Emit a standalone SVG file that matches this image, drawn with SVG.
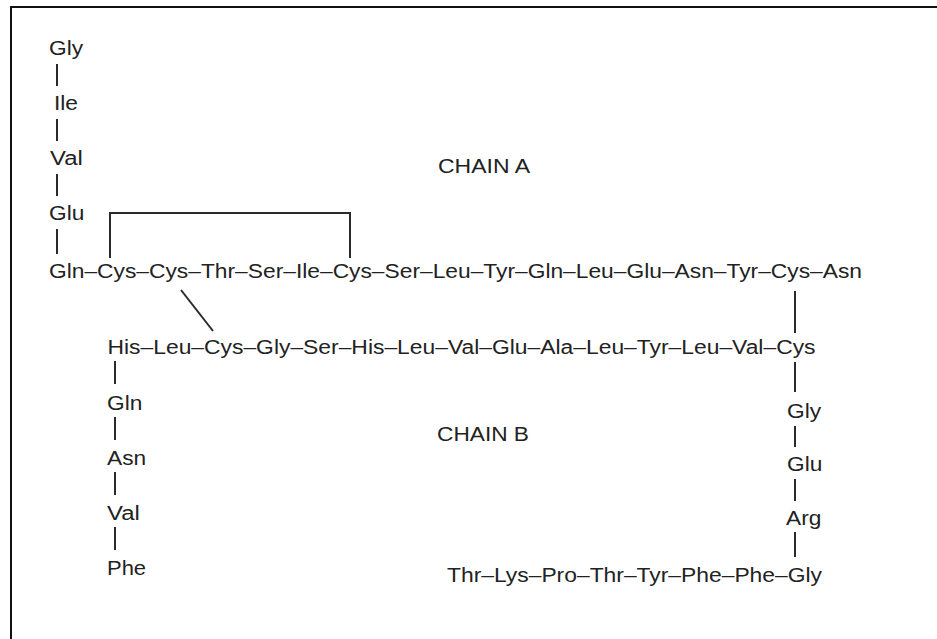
<svg xmlns="http://www.w3.org/2000/svg" width="937" height="639" viewBox="0 0 937 639">
  <style>
    text { font-family: "Liberation Sans", Arial, Helvetica, sans-serif; font-size: 20px; fill: #222; }
    .bond { stroke: #2a2a2a; stroke-width: 2; fill: none; }
    .frame { stroke: #111; stroke-width: 2; fill: none; }
  </style>
  <rect width="937" height="639" fill="#fff"/>
  <!-- outer frame (right and bottom edges fall outside the canvas) -->
  <rect class="frame" x="11" y="7" width="1000" height="1000"/>

  <!-- bonds and disulfide bridges -->
  <g id="connectors">
    <!-- chain A N-terminal column -->
    <line class="bond" x1="57" y1="64" x2="57" y2="86"/>
    <line class="bond" x1="57" y1="119" x2="57" y2="141"/>
    <line class="bond" x1="57" y1="174" x2="57" y2="196"/>
    <line class="bond" x1="57" y1="229" x2="57" y2="254"/>
    <!-- intrachain disulfide Cys6–Cys11 -->
    <path class="bond" d="M110,258 V213 H350 V258"/>
    <!-- interchain disulfide A7–B7 -->
    <line class="bond" x1="181" y1="290" x2="213" y2="331"/>
    <!-- interchain disulfide A20–B19 and chain B right column -->
    <line class="bond" x1="795" y1="291" x2="795" y2="333"/>
    <line class="bond" x1="795" y1="362" x2="795" y2="392"/>
    <line class="bond" x1="795" y1="426" x2="795" y2="447"/>
    <line class="bond" x1="795" y1="479" x2="795" y2="501"/>
    <line class="bond" x1="795" y1="532" x2="795" y2="557"/>
    <!-- chain B N-terminal column -->
    <line class="bond" x1="115" y1="361" x2="115" y2="384"/>
    <line class="bond" x1="115" y1="417" x2="115" y2="440"/>
    <line class="bond" x1="115" y1="472" x2="115" y2="495"/>
    <line class="bond" x1="115" y1="527" x2="115" y2="550"/>
  </g>

  <g id="chainA-nterm">
    <text x="49" y="55" textLength="34.1" lengthAdjust="spacingAndGlyphs">Gly</text>
    <text x="54" y="110" textLength="24" lengthAdjust="spacingAndGlyphs">Ile</text>
    <text x="50" y="165" textLength="32.8" lengthAdjust="spacingAndGlyphs">Val</text>
    <text x="49" y="220" textLength="35.3" lengthAdjust="spacingAndGlyphs">Glu</text>
  </g>

  <g id="chainA-row">
    <text x="49" y="278" textLength="813" lengthAdjust="spacingAndGlyphs">Gln–Cys–Cys–Thr–Ser–Ile–Cys–Ser–Leu–Tyr–Gln–Leu–Glu–Asn–Tyr–Cys–Asn</text>
  </g>

  <g id="chainB-row">
    <text x="107.5" y="354" textLength="708" lengthAdjust="spacingAndGlyphs">His–Leu–Cys–Gly–Ser–His–Leu–Val–Glu–Ala–Leu–Tyr–Leu–Val–Cys</text>
  </g>

  <g id="chainB-nterm">
    <text x="107" y="410" textLength="35.3" lengthAdjust="spacingAndGlyphs">Gln</text>
    <text x="107" y="465" textLength="39.1" lengthAdjust="spacingAndGlyphs">Asn</text>
    <text x="107" y="520" textLength="32.8" lengthAdjust="spacingAndGlyphs">Val</text>
    <text x="107" y="575" textLength="39.1" lengthAdjust="spacingAndGlyphs">Phe</text>
  </g>

  <g id="chainB-turn">
    <text x="787" y="418" textLength="34.1" lengthAdjust="spacingAndGlyphs">Gly</text>
    <text x="787" y="471" textLength="35.3" lengthAdjust="spacingAndGlyphs">Glu</text>
    <text x="786" y="525" textLength="35.3" lengthAdjust="spacingAndGlyphs">Arg</text>
  </g>

  <g id="chainB-cterm">
    <text x="447" y="582" textLength="375" lengthAdjust="spacingAndGlyphs">Thr–Lys–Pro–Thr–Tyr–Phe–Phe–Gly</text>
  </g>

  <g id="label-chainA">
    <text x="438" y="173" textLength="92" lengthAdjust="spacingAndGlyphs">CHAIN A</text>
  </g>
  <g id="label-chainB">
    <text x="437" y="441" textLength="92" lengthAdjust="spacingAndGlyphs">CHAIN B</text>
  </g>
</svg>
